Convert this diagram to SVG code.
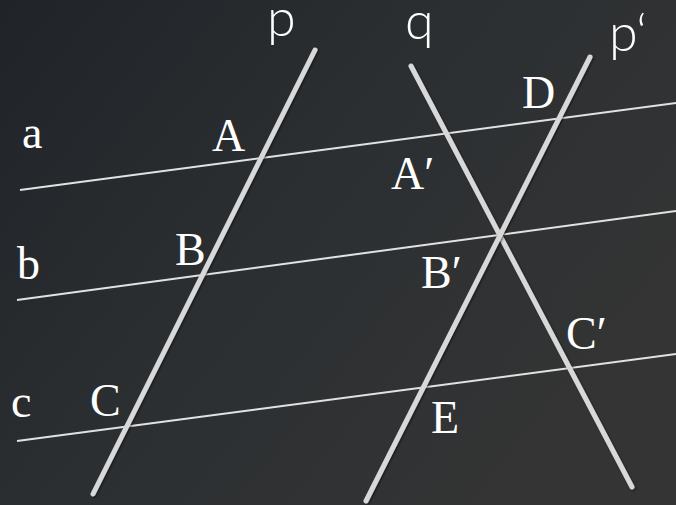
<svg xmlns="http://www.w3.org/2000/svg" width="676" height="505" viewBox="0 0 676 505">
<defs>
<linearGradient id="bg" x1="0" y1="0" x2="1" y2="0.6">
<stop offset="0" stop-color="#202428"/>
<stop offset="0.5" stop-color="#2b2f32"/>
<stop offset="1" stop-color="#343434"/>
</linearGradient>
<filter id="sh" x="-10%" y="-10%" width="120%" height="120%">
<feDropShadow dx="1" dy="1" stdDeviation="1" flood-color="#000" flood-opacity="0.6"/>
</filter>
<style>
.thin{stroke:#e2e2e2;stroke-width:2;fill:none}
.thick{stroke:#d8d8d8;stroke-width:5;stroke-linecap:round;fill:none;filter:url(#sh)}
.serif{font-family:"Liberation Serif","Times New Roman",serif;font-size:46px;fill:#ffffff}
.sans{font-family:Lato,"Liberation Sans",Arial,sans-serif;font-weight:300;font-size:52px;fill:#ffffff}
</style>
</defs>
<rect width="676" height="505" fill="url(#bg)"/>
<g id="connectors">
<line id="a" class="thin" x1="20" y1="190" x2="676" y2="103"/>
<line id="b" class="thin" x1="17" y1="300" x2="676" y2="211"/>
<line id="c" class="thin" x1="17" y1="441" x2="676" y2="354"/>
<line id="p" class="thick" x1="315" y1="50" x2="93" y2="494"/>
<line id="q" class="thick" x1="411" y1="66" x2="632" y2="487"/>
<line id="p2" class="thick" x1="590" y1="57" x2="366" y2="501"/>
</g>
<g id="label-p"><text class="sans" x="267" y="36">p</text></g>
<g id="label-q"><text class="sans" x="405" y="39">q</text></g>
<g id="label-p2"><text class="sans" x="609" y="51">p‘</text></g>
<g id="label-a"><text class="serif" x="22" y="148">a</text></g>
<g id="label-b"><text class="serif" x="17" y="279">b</text></g>
<g id="label-c"><text class="serif" x="11" y="417">c</text></g>
<g id="label-A"><text class="serif" x="212" y="151">A</text></g>
<g id="label-B"><text class="serif" x="175" y="265">B</text></g>
<g id="label-C"><text class="serif" x="90" y="416">C</text></g>
<g id="label-D"><text class="serif" x="522" y="108">D</text></g>
<g id="label-E"><text class="serif" x="431" y="433">E</text></g>
<g id="label-A2"><text class="serif" x="391" y="189">A′</text></g>
<g id="label-B2"><text class="serif" x="421" y="288">B′</text></g>
<g id="label-C2"><text class="serif" x="566" y="349">C′</text></g>
</svg>
